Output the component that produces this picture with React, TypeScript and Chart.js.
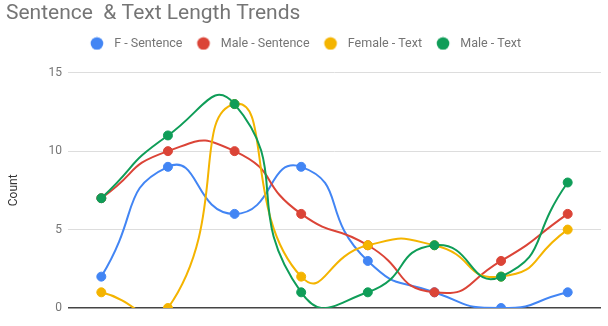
import React, { useEffect, useRef } from "react";
import { Chart, registerables } from "chart.js";

Chart.register(...registerables);

const categories = ["1", "2", "3", "4", "5", "6", "7", "8"];
const fSentence = [2, 9, 6, 9, 3, 1, 0, 1];
const maleSentence = [7, 10, 10, 6, 4, 1, 3, 6];
const femaleText = [1, 0, 13, 2, 4, 4, 2, 5];
const maleText = [7, 11, 13, 1, 1, 4, 2, 8];
const yTicks = [0, 5, 10, 15];

const series = [
  { label: "F - Sentence", data: fSentence, color: "#4285F4" },
  { label: "Male - Sentence", data: maleSentence, color: "#DB4437" },
  { label: "Female - Text", data: femaleText, color: "#F4B400" },
  { label: "Male - Text", data: maleText, color: "#0F9D58" },
];

function legendDot(color: string) {
  const c = document.createElement("canvas");
  c.width = 22;
  c.height = 14;
  const g = c.getContext("2d")!;
  g.fillStyle = color;
  g.beginPath();
  g.arc(11, 7, 6.3, 0, Math.PI * 2);
  g.fill();
  return c;
}

export default function App() {
  const ref = useRef<HTMLCanvasElement>(null);
  useEffect(() => {
    const datasets = series
      .slice()
      .reverse()
      .map((s) => ({
        label: s.label,
        data: s.data,
        borderColor: s.color,
        backgroundColor: s.color,
        pointBackgroundColor: s.color,
        pointBorderColor: s.color,
        pointStyle: "circle",
        legendImg: legendDot(s.color),
        borderWidth: 2,
        pointRadius: 4.5,
        pointBorderWidth: 1,
        tension: 0.6,
        fill: false,
        clip: { left: false, top: false, right: false, bottom: 0 } as any,
      }));
    const chart = new Chart(ref.current!, {
      type: "line",
      data: { labels: categories, datasets: datasets as any },
      options: {
        animation: false,
        responsive: false,
        devicePixelRatio: 1,
        layout: { padding: { left: 6, right: 7, top: 0, bottom: 18 } },
        elements: {
          line: { capBezierPoints: false },
        },
        plugins: {
          title: {
            display: true,
            text: "Sentence  & Text Length Trends",
            align: "start",
            color: "#757575",
            font: { family: "Roboto", size: 21, weight: "normal" },
            padding: { top: 1, bottom: 1 },
          },
          legend: {
            display: true,
            position: "top",
            reverse: true,
            labels: {
              usePointStyle: true,
              pointStyleWidth: 22,
              boxHeight: 12,
              color: "#757575",
              font: { family: "Roboto", size: 12.5 },
              padding: 10,
              generateLabels: (ch: any) =>
                ch.data.datasets.map((d: any, i: number) => ({
                  text: d.label,
                  fillStyle: d.borderColor,
                  strokeStyle: d.borderColor,
                  lineWidth: 0,
                  pointStyle: d.legendImg,
                  hidden: false,
                  datasetIndex: i,
                  fontColor: "#757575",
                })),
            },
          },
          tooltip: { enabled: false },
        },
        scales: {
          x: {
            display: false,
            offset: true,
          },
          xTop: {
            type: "category",
            position: "top",
            display: true,
            labels: categories,
            grid: { display: false, drawTicks: false },
            border: { display: false },
            ticks: { display: false },
            afterFit: (scale: any) => {
              scale.height = 13;
            },
          } as any,
          y: {
            min: 0,
            max: 15,
            afterBuildTicks: (scale: any) => {
              scale.ticks = yTicks.map((v) => ({ value: v }));
            },
            afterFit: (scale: any) => {
              scale.width = 62;
            },
            ticks: {
              color: "#757575",
              font: { family: "Roboto", size: 12 },
              padding: 6,
            },
            grid: {
              drawTicks: false,
              color: (ctx: any) => (ctx.tick && ctx.tick.value === 0 ? "#444444" : "#dddddd"),
              lineWidth: (ctx: any) => (ctx.tick && ctx.tick.value === 0 ? 1.5 : 1),
            },
            border: { display: false },
            title: {
              display: true,
              text: "Count",
              color: "#333333",
              font: { family: "Roboto", size: 12 },
              padding: { top: 1, bottom: 0 },
            },
          },
        },
      },
    });
    return () => chart.destroy();
  }, []);
  return (
    <div style={{ position: "fixed", left: 0, top: 0, width: 608, height: 326, background: "#fff" }}>
      <canvas ref={ref} width={608} height={326} style={{ display: "block" }} />
    </div>
  );
}
